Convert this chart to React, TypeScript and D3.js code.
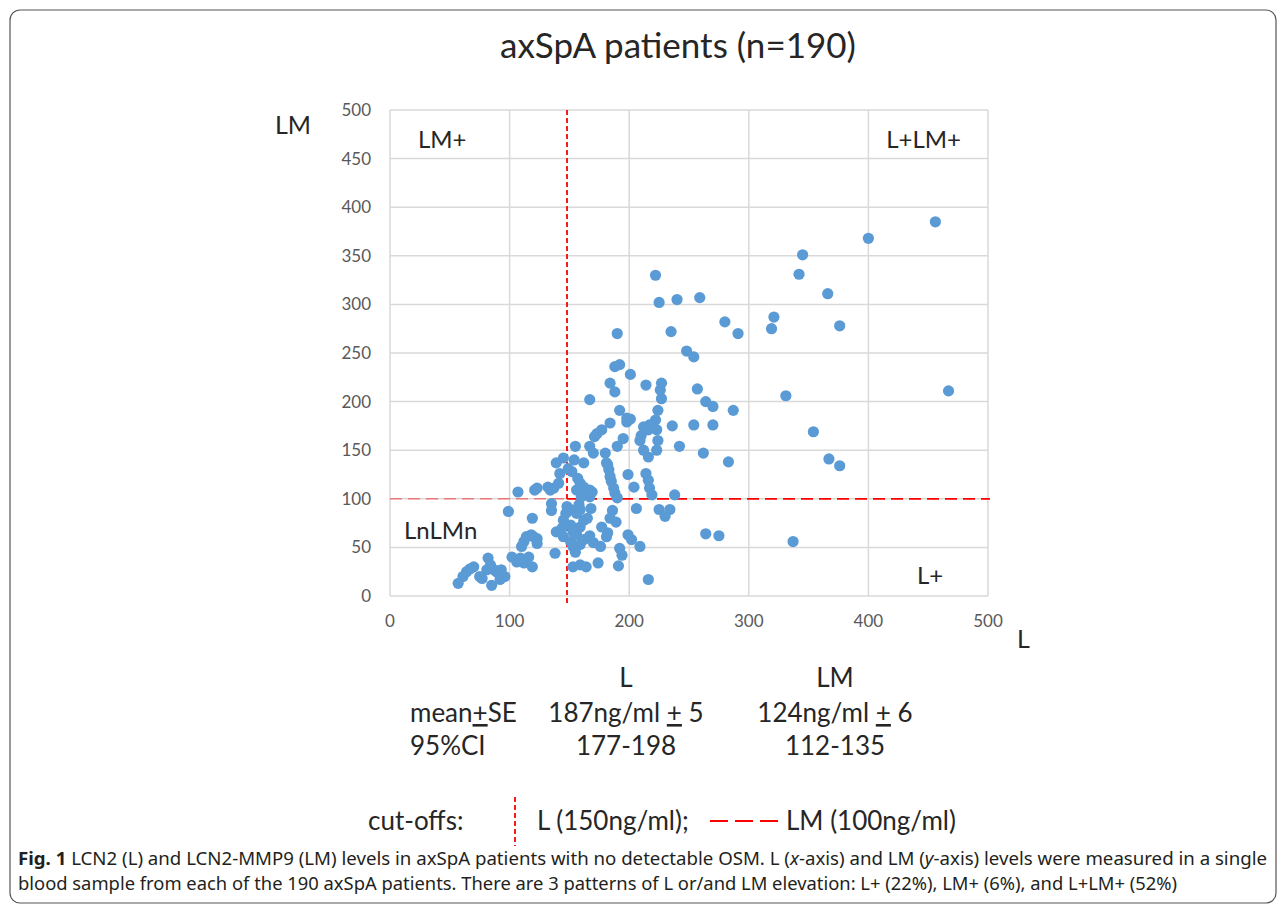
import React from "react";
import * as d3 from "d3";

// L (x) and LM (y) in ng/ml, split by quadrant
const lnlmnPoints: [number, number][] = [
  [57, 13], [61, 20], [64, 25], [67, 28], [70, 30], [75, 20], [77, 18], [81, 27], [82, 39], [84, 32],
  [85, 11], [87, 27], [89, 25], [92, 17], [93, 27], [96, 20], [99, 87], [102, 40], [106, 35], [109, 39],
  [110, 51], [112, 56], [112, 34], [114, 61], [116, 40], [118, 63], [119, 30], [119, 80], [120, 61], [123, 59],
  [123, 54], [135, 88], [135, 95], [138, 44], [139, 66], [144, 70], [145, 61], [145, 78], [147, 85], [148, 92],
];
const lmPlusPoints: [number, number][] = [
  [107, 107], [121, 109], [123, 111], [132, 112], [134, 109], [137, 111], [141, 116], [142, 126], [139, 137],
  [145, 142], [149, 131],
];
const lPlusPoints: [number, number][] = [
  [151, 56], [151, 73], [151, 89], [153, 51], [153, 66], [153, 30], [156, 63], [156, 85], [159, 71], [159, 89],
  [159, 53], [159, 32], [162, 78], [162, 58], [164, 30], [165, 80], [167, 62], [168, 90], [170, 55], [174, 34],
  [176, 51], [177, 71], [181, 61], [184, 80], [186, 88], [189, 76], [192, 49], [194, 42], [191, 31], [199, 63],
  [202, 58], [206, 90], [209, 51], [216, 17], [225, 89], [230, 82], [234, 89], [264, 64], [275, 62], [337, 56],
  [182, 65], [155, 45], [158, 94],
];
const lPlusLmPlusPoints: [number, number][] = [
  [155, 154], [157, 121], [159, 116], [160, 102], [162, 112], [162, 137], [165, 107], [167, 154], [169, 107], [170, 147],
  [173, 167], [177, 171], [180, 147], [181, 137], [183, 130], [184, 123], [185, 118], [187, 111], [188, 106], [190, 101],
  [184, 178], [198, 179], [171, 164], [195, 162], [190, 154], [199, 125], [204, 112], [167, 109], [167, 102], [167, 202],
  [156, 109], [152, 128], [154, 140],
  [209, 160], [212, 174], [216, 171], [212, 150], [216, 143], [223, 171], [224, 160], [223, 150], [214, 126], [216, 119],
  [217, 111], [219, 104], [224, 191], [222, 181], [217, 176], [227, 219], [226, 212], [227, 203], [214, 217], [201, 228],
  [192, 238], [188, 236], [184, 219], [188, 210], [235, 272], [222, 330], [225, 302], [240, 305], [236, 175], [242, 154],
  [238, 104], [201, 182], [192, 191], [198, 183], [190, 270],
  [248, 252], [254, 246], [257, 213], [264, 200], [270, 195], [287, 191], [254, 176], [270, 176], [262, 147], [283, 138],
  [259, 307], [280, 282], [291, 270], [210, 165], [182, 135],
  [456, 385], [400, 368], [345, 351], [342, 331], [366, 311], [321, 287], [319, 275], [376, 278], [467, 211], [331, 206],
  [354, 169], [367, 141], [376, 134],
];

const chartTitle = "axSpA patients (n=190)";
const xTicks = [0, 100, 200, 300, 400, 500];
const yTicks = [0, 50, 100, 150, 200, 250, 300, 350, 400, 450, 500];
const cutL = 148;
const cutLM = 100;

const quadrantLabels = ["LM+", "L+LM+", "LnLMn", "L+"];
const statColumns = ["L", "LM"];
const meanSE = ["187ng/ml", "124ng/ml"];
const seValues = ["5", "6"];
const ci95 = ["177-198", "112-135"];

const font = "Lato, 'Open Sans', sans-serif";
const dark = "#262626";
const captionFont = "'Liberation Sans Narrow', 'Noto Sans', sans-serif";

export default function App() {
  const W = 1284, H = 910;
  const x = d3.scaleLinear().domain([0, 500]).range([390, 988]);
  const y = d3.scaleLinear().domain([0, 500]).range([596, 110]);
  const all = [...lnlmnPoints, ...lmPlusPoints, ...lPlusPoints, ...lPlusLmPlusPoints];
  const colX = [626, 835];

  return (
    <svg width={W} height={H} style={{ position: "absolute", left: 0, top: 0, background: "#fff" }} fontFamily={font}>
      <rect x={10} y={10} width={1266} height={893} rx={10} fill="#fff" stroke="#555" strokeWidth={1.2} />
      <text x={678} y={58} textAnchor="middle" fontSize={35} fill={dark}>{chartTitle}</text>

      {/* grid */}
      {yTicks.map((t) => (
        <line key={"gy" + t} x1={x(0)} x2={x(500)} y1={y(t)} y2={y(t)} stroke="#d9d9d9" strokeWidth={1.5} />
      ))}
      {xTicks.map((t) => (
        <line key={"gx" + t} x1={x(t)} x2={x(t)} y1={y(0)} y2={y(500)} stroke="#d9d9d9" strokeWidth={1.5} />
      ))}
      {yTicks.map((t) => (
        <text key={"ty" + t} x={371} y={y(t) + 6} textAnchor="end" fontSize={17} fill="#595959">{t}</text>
      ))}
      {xTicks.map((t) => (
        <text key={"tx" + t} x={x(t)} y={627} textAnchor="middle" fontSize={17} fill="#595959">{t}</text>
      ))}
      <text x={275} y={134} fontSize={25} fill={dark}>LM</text>
      <text x={1017} y={648} fontSize={25} fill={dark}>L</text>

      {/* quadrant labels */}
      <text x={418} y={148} fontSize={24} fill={dark}>{quadrantLabels[0]}</text>
      <text x={961} y={148} textAnchor="end" fontSize={24} fill={dark}>{quadrantLabels[1]}</text>
      <text x={404} y={539} fontSize={24} fill={dark}>{quadrantLabels[2]}</text>
      <text x={917} y={584} fontSize={24} fill={dark}>{quadrantLabels[3]}</text>

      {/* cut-offs */}
      <line x1={x(0)} x2={x(cutL)} y1={y(cutLM)} y2={y(cutLM)} stroke="#ff0000" strokeOpacity={0.45} strokeWidth={1.6} strokeDasharray="12 6" />
      <line x1={x(cutL)} x2={x(500) + 2} y1={y(cutLM)} y2={y(cutLM)} stroke="#ff0000" strokeWidth={1.8} strokeDasharray="12 6" />
      <line x1={x(cutL)} x2={x(cutL)} y1={y(500)} y2={y(0) + 7} stroke="#ff0000" strokeWidth={1.8} strokeDasharray="5 3" />

      {all.map((d, i) => (
        <circle key={i} cx={x(d[0])} cy={y(d[1])} r={5.6} fill="#5b9bd5" />
      ))}

      {/* stats */}
      {statColumns.map((c, i) => (
        <text key={c} x={colX[i]} y={687} textAnchor="middle" fontSize={26} fill={dark}>{c}</text>
      ))}
      <text x={410} y={722} fontSize={26} fill={dark}>
        mean<tspan textDecoration="underline">+</tspan>SE
      </text>
      {meanSE.map((m, i) => (
        <text key={m} x={colX[i]} y={722} textAnchor="middle" fontSize={26} fill={dark}>
          {m} <tspan textDecoration="underline">+</tspan> {seValues[i]}
        </text>
      ))}
      <text x={410} y={755} fontSize={26} fill={dark}>95%CI</text>
      {ci95.map((c, i) => (
        <text key={c} x={colX[i]} y={755} textAnchor="middle" fontSize={26} fill={dark}>{c}</text>
      ))}

      {/* legend */}
      <text x={368} y={830} fontSize={26} fill={dark}>cut-offs:</text>
      <line x1={515} x2={515} y1={797} y2={846} stroke="#ff0000" strokeWidth={1.8} strokeDasharray="5 3" />
      <text x={537} y={830} fontSize={26} fill={dark}>L (150ng/ml);</text>
      <line x1={710} x2={778} y1={821} y2={821} stroke="#ff0000" strokeWidth={2.2} strokeDasharray="18 7" />
      <text x={786} y={830} fontSize={26} fill={dark}>LM (100ng/ml)</text>

      {/* caption */}
      <text x={18} y={865} fontSize={18} fill="#231f20" fontFamily={captionFont} textLength={1249} lengthAdjust="spacingAndGlyphs">
        <tspan fontWeight="bold">Fig. 1</tspan>{"  LCN2 (L) and LCN2-MMP9 (LM) levels in axSpA patients with no detectable OSM. L ("}
        <tspan fontStyle="italic">x</tspan>{"-axis) and LM ("}<tspan fontStyle="italic">y</tspan>
        {"-axis) levels were measured in a single"}
      </text>
      <text x={18} y={890} fontSize={18} fill="#231f20" fontFamily={captionFont} textLength={1159} lengthAdjust="spacingAndGlyphs">
        blood sample from each of the 190 axSpA patients. There are 3 patterns of L or/and LM elevation: L+ (22%), LM+ (6%), and L+LM+ (52%)
      </text>
    </svg>
  );
}
